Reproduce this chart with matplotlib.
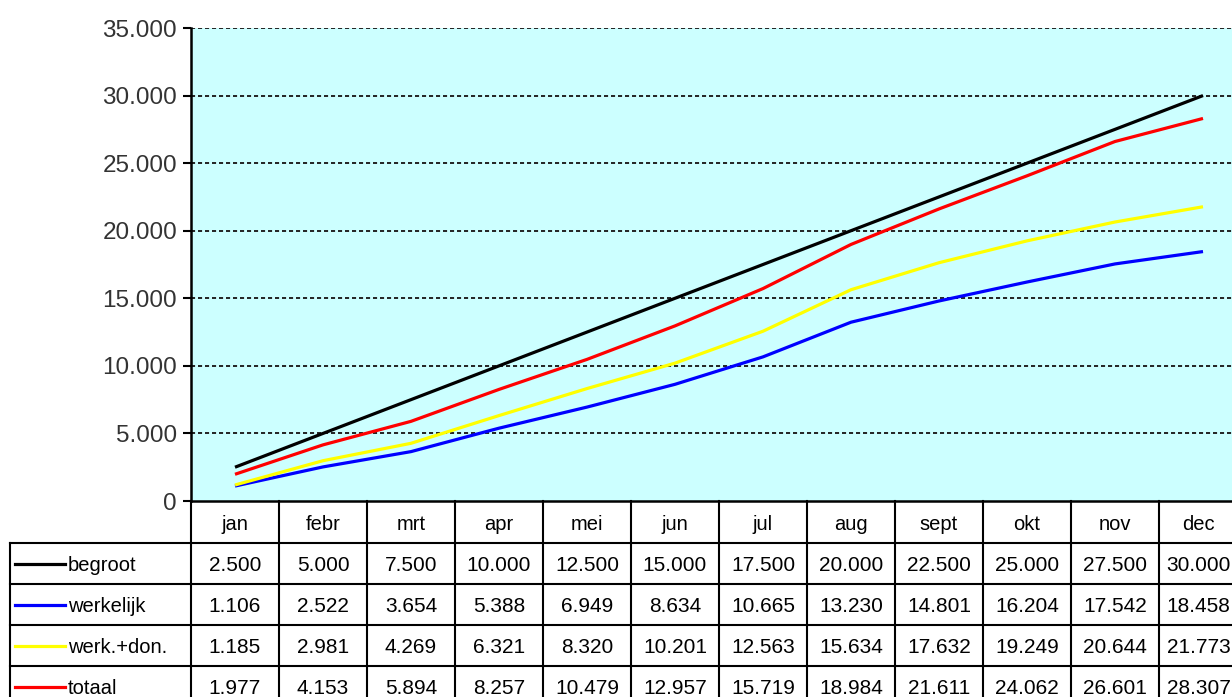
import matplotlib
matplotlib.use("Agg")
import matplotlib.pyplot as plt
from matplotlib.transforms import blended_transform_factory

plt.rcParams['font.family'] = ['Liberation Sans', 'DejaVu Sans']

# maanden en reeksen
maanden = ["jan", "febr", "mrt", "apr", "mei", "jun", "jul", "aug", "sept", "okt", "nov", "dec"]
begroot = [2500, 5000, 7500, 10000, 12500, 15000, 17500, 20000, 22500, 25000, 27500, 30000]
werkelijk = [1106, 2522, 3654, 5388, 6949, 8634, 10665, 13230, 14801, 16204, 17542, 18458]
werk_don = [1185, 2981, 4269, 6321, 8320, 10201, 12563, 15634, 17632, 19249, 20644, 21773]
totaal = [1977, 4153, 5894, 8257, 10479, 12957, 15719, 18984, 21611, 24062, 26601, 28307]

reeksen = [
    ("begroot", begroot, "#000000"),
    ("werkelijk", werkelijk, "#0000FF"),
    ("werk.+don.", werk_don, "#FFFF00"),
    ("totaal", totaal, "#FF0000"),
]
y_ticks = [0, 5000, 10000, 15000, 20000, 25000, 30000, 35000]


def fmt(v):
    return f"{v:,}".replace(",", ".")


W, H = 1232, 697
fig = plt.figure(figsize=(W / 100, H / 100), dpi=100)
fig.patch.set_facecolor("white")

# plotgebied loopt rechts iets buiten het beeld, net als in het origineel
ax = fig.add_axes([191 / W, (H - 501) / H, 1056 / W, 473 / H])
ax.set_facecolor("#CCFFFF")
x = list(range(len(maanden)))

for naam, waarden, kleur in reeksen:
    ax.plot(x, waarden, color=kleur, lw=2.3, solid_capstyle="butt", zorder=3)

ax.set_xlim(-0.5, len(maanden) - 0.5)
ax.set_ylim(0, 35000)
ax.set_yticks(y_ticks)
ax.set_yticklabels([fmt(v) for v in y_ticks], fontsize=17.5, color="#333333")
ax.set_xticks([])
ax.tick_params(axis="y", length=6, width=1.5, pad=4)
for yv in y_ticks[1:]:
    ax.axhline(yv, color="#222222", lw=1.4, ls=(0, (2.1, 1.5)), zorder=1)
for s in ["top", "right"]:
    ax.spines[s].set_visible(False)
for s in ["left", "bottom"]:
    ax.spines[s].set_linewidth(1.8)

# tabel onder de grafiek
tr = blended_transform_factory(ax.transData, ax.transAxes)
px = 1 / 473.0
rij_h = [42 * px] + [41 * px] * len(reeksen) + [41 * px]
rand = [0]
for h in rij_h:
    rand.append(rand[-1] - h)
links = -0.5 - 181 / 88.0
lw = 1.5
dy = -2 * px  # tekst iets lager in de cel


def kolom_x(i):
    # laatste kolom valt deels buiten beeld; tekst schuift iets naar links
    return i - 0.05 if i == len(maanden) - 1 else i


def lijn(xs, ys):
    ax.plot(xs, ys, color="black", lw=lw, transform=tr, clip_on=False)


# verticale lijnen tussen maanden
for k in range(len(maanden) + 1):
    lijn([k - 0.5, k - 0.5], [0, rand[-1]])
lijn([links, links], [rand[1], rand[-1]])
for r in rand[1:-1]:
    lijn([links, len(maanden) - 0.5], [r, r])

for i, m in enumerate(maanden):
    ax.text(kolom_x(i), (rand[0] + rand[1]) / 2 + dy, m, transform=tr, ha="center",
            va="center", fontsize=14.5, color="black")

for j, (naam, waarden, kleur) in enumerate(reeksen):
    yc = (rand[j + 1] + rand[j + 2]) / 2
    ax.plot([links + 5 / 88, links + 55 / 88], [yc, yc], color=kleur, lw=2.3,
            transform=tr, clip_on=False)
    ax.text(links + 58 / 88, yc + dy, naam, transform=tr, ha="left", va="center",
            fontsize=14.5, color="black")
    for i, v in enumerate(waarden):
        ax.text(kolom_x(i), yc + dy, fmt(v), transform=tr, ha="center", va="center",
                fontsize=15, color="black")

fig.savefig("out.png", dpi=100)
